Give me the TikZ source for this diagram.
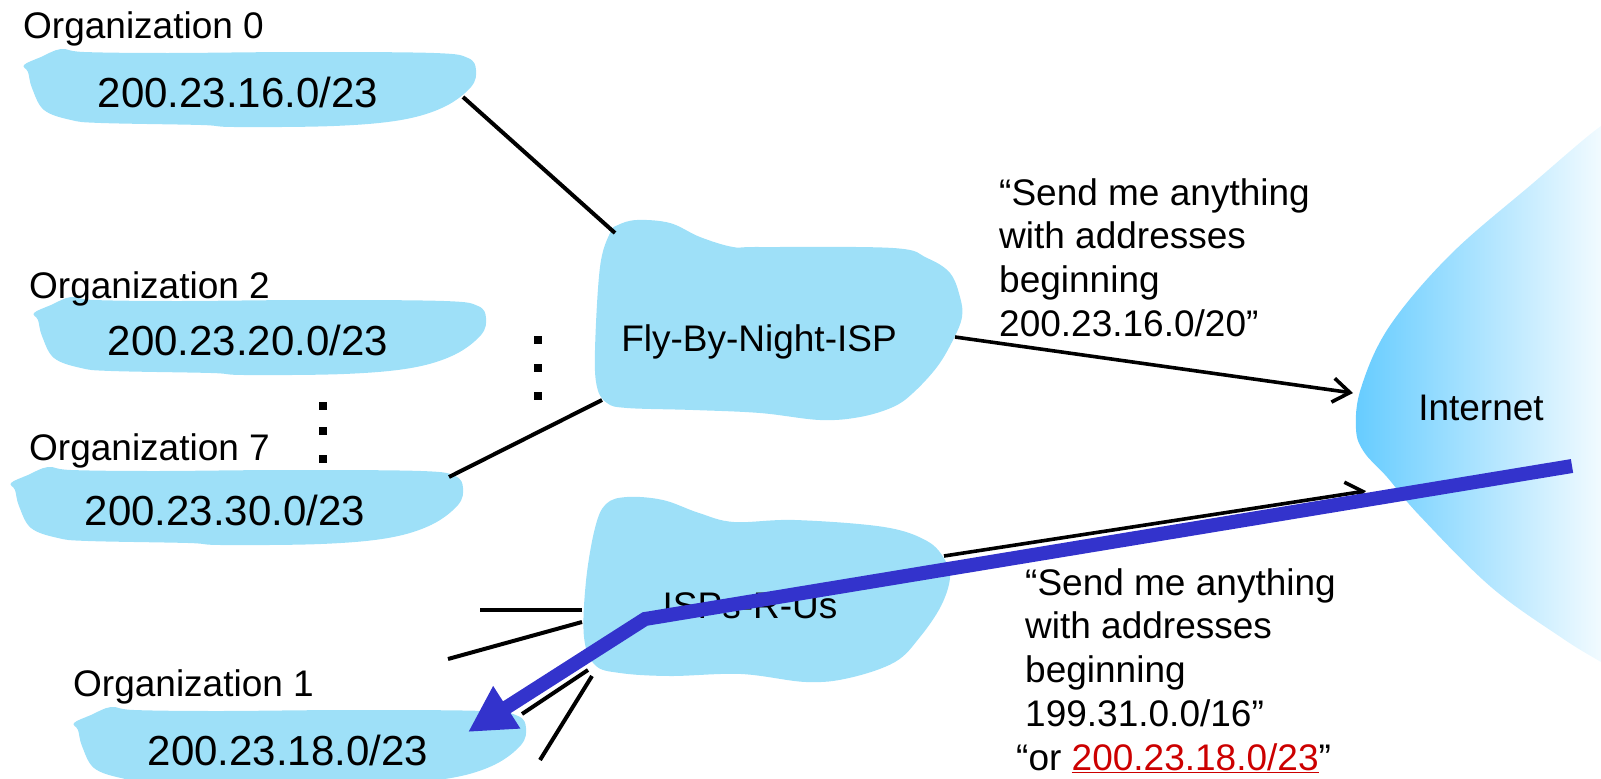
\documentclass[tikz,border=0pt]{standalone}
\usepackage{fontspec}
\setmainfont{Liberation Sans}
\usetikzlibrary{arrows.meta}
\definecolor{cloudblue}{HTML}{9EE0F8}
\definecolor{inetblue}{HTML}{66CCFF}
\definecolor{pathblue}{HTML}{3333CC}
\definecolor{prefixred}{HTML}{CC0000}
\tikzset{
  orgblob/.pic={
    \fill[cloudblue] plot[smooth cycle, tension=0.6] coordinates {
      (-214,-27) (-210,-20) (-206,-4) (-194,18) (-167,28) (-137,31) (-37,33)
      (-4,35) (96,34) (163,28) (206,15) (233,-5) (238,-22) (230,-34)
      (196,-39) (63,-40) (-70,-39) (-154,-40) (-177,-43) (-197,-35)};
  }
}
\begin{document}
\begin{tikzpicture}[x=1pt,y=-1pt,
  iptext/.style={font=\fontsize{42}{50}\selectfont, inner sep=0pt},
  lbl/.style={font=\fontsize{37}{44}\selectfont, inner sep=0pt, anchor=base west},
  cloudlbl/.style={font=\fontsize{37}{44}\selectfont, inner sep=0pt},
  quote/.style={font=\fontsize{37}{43.6}\selectfont, inner sep=0pt, anchor=base west, align=left},
  link/.style={line width=4pt},
  adv/.style={line width=3.6pt, -{Straight Barb[length=17pt,width=24pt]}},
  dotmark/.style={fill=black, minimum size=8pt, inner sep=0pt},
  route/.style={pathblue, line width=14pt, line join=miter,
                -{Triangle[length=46pt,width=47pt]}}]
\useasboundingbox (0,0) rectangle (1601,779);

% Internet cloud, fading to white towards the right
\shade[left color=inetblue, middle color=inetblue!35!white, right color=white]
  plot[smooth, tension=0.6] coordinates {(1625,118) (1601,126) (1532,184)
    (1450,255) (1389,327) (1361,388) (1356,429) (1364,452) (1387,477)
    (1419,515) (1491,587) (1562,638) (1601,662) (1625,676)} -- cycle;

% Organization subnets
\pic at (238,92) {orgblob};
\pic at (248,340) {orgblob};
\pic at (225,510) {orgblob};
\pic at (288,750) {orgblob};

% ISP clouds
\fill[cloudblue] plot[smooth cycle, tension=0.6] coordinates {
  (618,225) (637,220) (670,223) (700,237) (733,247) (760,247) (893,248)
  (927,258) (950,273) (960,297) (962,317) (953,340) (937,367) (913,393)
  (893,407) (860,417) (820,420) (760,413) (693,410) (627,408) (607,403)
  (597,387) (595,350) (600,267) (610,233)};
\fill[cloudblue] plot[smooth cycle, tension=0.6] coordinates {
  (606,504) (627,497) (663,500) (699,513) (734,522) (795,520) (884,527)
  (927,541) (945,560) (950,578) (941,606) (920,637) (895,662) (849,678)
  (806,682) (741,674) (670,676) (620,673) (595,665) (584,637) (586,581)
  (595,528)};

% Labels and prefixes
\node[lbl] (org0lbl) at (23,38) {Organization 0};
\node[iptext] (org0) at (238,92) {200.23.16.0/23};
\node[lbl] (org2lbl) at (29,298) {Organization 2};
\node[iptext] (org2) at (248,340) {200.23.20.0/23};
\node[lbl] (org7lbl) at (29,460) {Organization 7};
\node[iptext] (org7) at (225,510) {200.23.30.0/23};
\node[lbl] (org1lbl) at (73,696) {Organization 1};
\node[iptext] (org1) at (288,750) {200.23.18.0/23};

\node[cloudlbl] (fly) at (759,342) {Fly-By-Night-ISP};
\node[cloudlbl] (isps) at (750,606) {ISPs-R-Us};
\node[cloudlbl] (inet) at (1481,408) {Internet};

% Ellipses for the omitted organizations
\node[dotmark] (da1) at (323,406) {};
\node[dotmark] (da2) at (323,431) {};
\node[dotmark] (da3) at (323,459) {};
\node[dotmark] (db1) at (538,340) {};
\node[dotmark] (db2) at (538,368) {};
\node[dotmark] (db3) at (538,396) {};

% Attachment points on the cloud outlines
\coordinate (o0e) at (463,97);
\coordinate (flynw) at (615,233);
\coordinate (o7e) at (449,477);
\coordinate (flysw) at (602,400);
\coordinate (flye) at (955,337);
\coordinate (inetw) at (1353,393);
\coordinate (ispse) at (944,556);
\coordinate (inetsw) at (1366,491);
\coordinate (s1a) at (480,610);   \coordinate (s1b) at (582,610);
\coordinate (s2a) at (448,659);   \coordinate (s2b) at (582,622);
\coordinate (s3a) at (522,714);   \coordinate (s3b) at (588,670);
\coordinate (s4a) at (540,760);   \coordinate (s4b) at (592,676);

\draw[link] (o0e) -- (flynw);
\draw[link] (o7e) -- (flysw);
\draw[link] (s1a) -- (s1b);
\draw[link] (s2a) -- (s2b);
\draw[link] (s3a) -- (s3b);
\draw[link] (s4a) -- (s4b);
\draw[adv] (flye) -- (inetw);
\draw[adv] (ispse) -- (inetsw);

% Route advertisements (anchored at the baseline of their last line)
\node[quote] (adv1) at (999,336)
  {“Send me anything\\with addresses\\beginning\\200.23.16.0/20”};
\node[quote] (adv2) at (1025,726)
  {“Send me anything\\with addresses\\beginning\\199.31.0.0/16”};
\node[quote] (adv2b) at (1016,770)
  {“or \textcolor{prefixred}{\underline{200.23.18.0/23}}”};

% Traffic for Organization 1 follows the more specific route
\coordinate (inetend) at (1572,466);
\coordinate (bend) at (645,619);
\coordinate (o1tip) at (468,732);
\draw[route] (inetend) -- (bend) -- (o1tip);
\end{tikzpicture}
\end{document}
